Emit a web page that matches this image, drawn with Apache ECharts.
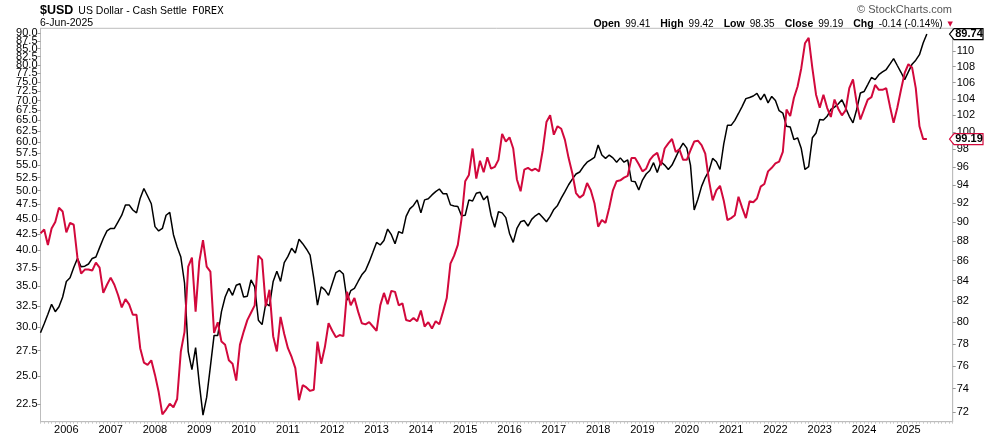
<!DOCTYPE html>
<html>
<head>
<meta charset="utf-8">
<script src="https://cdn.jsdelivr.net/npm/echarts@6/dist/echarts.min.js"></script>
<style>
  html, body { margin: 0; padding: 0; background: #fff; }
  #chart { width: 990px; height: 438px; }
</style>
</head>
<body>
<div id="chart"></div>
<script>
// ---- data (monthly closes, Jun 2005 .. Jun 2025) ----
const startYear = 2005, startMonth = 6, endYear = 2026, endMonth = 1;
const yearLabels = ['2006','2007','2008','2009','2010','2011','2012','2013','2014','2015','2016','2017','2018','2019','2020','2021','2022','2023','2024','2025'];
const leftTicks = [22.5,25,27.5,30,32.5,35,37.5,40,42.5,45,47.5,50,52.5,55,57.5,60,62.5,65,67.5,70,72.5,75,77.5,80,82.5,85,87.5,90];
const rightTicks = [72,74,76,78,80,82,84,86,88,90,92,94,96,98,100,102,104,106,108,110];

// black line, left axis
const blackSeries = [
29.4,30.4,31.5,32.7,31.8,32.4,33.6,35.6,36.1,37.5,38.8,37.6,37.7,38.0,38.8,39.0,40.4,41.8,43.0,43.4,
43.4,44.5,45.6,47.4,47.4,46.5,46.0,48.6,50.4,49.0,47.6,43.7,43.0,43.4,45.6,46.1,42.4,40.5,39.0,35.4,
27.4,25.6,27.8,24.3,21.6,23.1,25.9,29.1,29.1,31.8,33.6,34.7,33.8,35.1,35.3,33.6,33.7,35.8,34.9,30.8,
30.3,32.8,32.5,35.6,37.0,35.6,38.2,39.1,40.3,39.6,41.7,41.0,40.2,39.3,36.0,32.6,34.9,34.5,33.8,35.3,
36.8,37.1,36.6,33.2,34.4,34.7,35.6,36.5,37.1,38.3,39.7,41.2,40.8,41.5,43.3,42.4,41.0,42.9,42.6,45.4,
46.7,47.3,48.3,46.0,48.3,48.5,49.2,49.8,50.3,49.4,49.4,47.4,47.2,47.1,45.5,45.6,48.3,48.1,49.5,49.7,
48.3,49.0,45.6,43.6,46.2,46.0,45.2,42.6,41.2,43.4,44.5,44.7,43.8,44.9,45.5,45.9,45.2,44.5,45.4,46.6,
47.3,48.6,49.8,51.1,52.2,53.2,53.6,54.7,55.6,56.1,56.6,59.3,57.1,56.4,57.1,56.5,55.6,56.5,55.6,56.1,
51.8,51.7,50.1,52.0,53.2,53.9,55.5,53.5,55.7,55.0,54.1,55.0,56.6,58.3,59.7,58.6,55.0,46.5,48.4,50.8,
52.5,53.8,56.4,55.7,54.1,59.5,63.8,63.8,65.0,66.7,68.5,70.5,70.8,71.2,71.9,70.2,71.7,69.4,71.1,70.0,
67.4,66.8,63.6,63.4,60.5,60.9,58.5,54.1,54.7,60.9,62.0,65.2,65.1,66.0,67.7,68.3,69.1,70.2,68.1,66.0,
64.4,67.7,72.0,72.4,74.3,76.3,75.7,77.1,77.9,78.6,80.2,81.9,79.8,77.8,75.7,77.9,80.2,81.4,83.1,86.8,
89.74
];

// red line, right axis ($USD)
const usdSeries = [
88.8,89.2,87.6,89.3,90.0,91.5,91.1,88.9,89.9,89.7,86.3,84.7,85.1,85.1,85.0,85.8,85.3,82.8,83.6,84.3,
83.6,82.6,81.4,82.2,81.7,80.7,80.7,77.6,76.3,76.1,76.5,75.2,73.7,71.8,72.2,72.7,72.4,73.1,77.3,79.1,
85.4,86.3,81.0,85.9,88.1,85.4,84.9,79.0,80.0,78.2,77.9,76.5,76.2,74.7,77.9,79.1,80.2,80.9,81.6,86.5,
86.1,81.5,83.1,78.7,77.3,80.5,78.9,77.6,76.8,75.8,73.0,74.3,74.1,73.8,73.9,78.2,76.2,77.7,79.9,79.2,
78.6,78.8,78.7,82.9,81.6,82.3,81.0,79.9,79.8,80.0,79.6,79.2,81.6,82.8,81.7,83.0,82.9,81.6,81.8,80.2,
80.1,80.4,80.1,81.1,79.6,80.0,79.4,80.1,79.8,81.0,82.3,85.7,86.5,87.6,90.3,94.4,95.1,98.1,94.7,96.7,
95.4,97.1,95.8,96.0,96.8,99.8,98.9,99.4,98.1,94.6,93.3,95.7,95.9,95.6,95.8,95.5,97.9,101.2,102.0,99.7,
100.7,100.4,99.1,97.0,95.3,93.1,92.6,92.9,94.2,93.4,92.0,89.5,90.2,89.9,91.5,93.4,94.4,94.5,94.8,95.0,
97.0,97.0,96.3,95.5,95.8,96.8,97.3,97.6,96.2,98.1,98.7,99.2,97.7,98.0,96.8,96.8,97.9,98.9,99.0,98.5,
97.5,94.5,92.3,93.4,93.9,92.3,90.2,90.4,90.7,92.7,91.5,90.4,92.2,92.1,92.5,93.8,94.1,95.5,95.9,96.4,
96.6,97.7,102.7,101.9,104.1,105.5,107.8,111.0,111.7,107.8,104.5,102.9,104.5,102.9,101.8,103.9,102.8,102.0,102.6,105.3,
106.4,103.5,101.5,102.7,103.9,104.2,105.7,105.1,105.1,105.3,103.1,101.1,102.9,105.1,107.2,108.3,107.9,105.3,100.7,99.2,
99.19
];

// month categories
const months = [];
for (let y = startYear, m = startMonth; y < endYear || (y === endYear && m <= endMonth); ) {
  months.push(y + '-' + String(m).padStart(2, '0'));
  m++; if (m > 12) { m = 1; y++; }
}

const RED = '#d2093c';
const FONT = 'Liberation Sans';

// an empty sentinel label above the top tick absorbs ECharts' max-label overlap check
const leftLabelValues = leftTicks.concat([91.6]);

const chart = echarts.init(document.getElementById('chart'));

const option = {
  animation: false,
  backgroundColor: '#fff',
  textStyle: { fontFamily: FONT },
  grid: { left: 40.5, right: 37.3, top: 28.3, bottom: 16.3, show: true, borderColor: '#bdbdbd', borderWidth: 1 },
  title: [
    {
      left: 40, top: 2, padding: 0,
      text: '{a|$USD} {b|US Dollar - Cash Settle} {c|FOREX}',
      textStyle: {
        fontWeight: 'normal',
        rich: {
          a: { fontFamily: FONT, fontWeight: 'bold', fontSize: 12.5, color: '#000' },
          b: { fontFamily: FONT, fontWeight: 'normal', fontSize: 10.5, color: '#000' },
          c: { fontFamily: 'DejaVu Sans Mono', fontWeight: 'normal', fontSize: 10.5, color: '#000' }
        }
      }
    },
    {
      left: 40, top: 18, padding: 0,
      text: '6-Jun-2025',
      textStyle: { fontFamily: FONT, fontSize: 10.5, fontWeight: 'normal', color: '#000' }
    },
    {
      right: 38, top: 4, padding: 0,
      text: '© StockCharts.com',
      textStyle: { fontFamily: FONT, fontSize: 11, fontWeight: 'normal', color: '#555' }
    },
    {
      right: 37, top: 15, padding: 0,
      text: '{b|Open} {n|99.41}  {b|High} {n|99.42}  {b|Low} {n|98.35}  {b|Close} {n|99.19}  {b|Chg} {n|-0.14 (-0.14%)} {t|▼}',
      textStyle: {
        fontWeight: 'normal',
        rich: {
          b: { fontFamily: FONT, fontWeight: 'bold', fontSize: 10.5, color: '#000' },
          n: { fontFamily: FONT, fontWeight: 'normal', fontSize: 10, color: '#000' },
          t: { fontFamily: 'DejaVu Sans', fontWeight: 'normal', fontSize: 7, color: RED }
        }
      }
    }
  ],
  xAxis: {
    type: 'category',
    data: months,
    boundaryGap: false,
    axisLine: { show: true, lineStyle: { color: '#bdbdbd' } },
    axisTick: { show: true, interval: 0, length: 2, lineStyle: { color: '#c8c8c8' } },
    axisLabel: {
      interval: function (i, v) { return v.slice(5) === '01' && yearLabels.indexOf(v.slice(0, 4)) >= 0; },
      formatter: function (v) { return v.slice(0, 4); },
      fontFamily: FONT, fontSize: 11, color: '#000', margin: 3
    },
    splitLine: { show: false }
  },
  yAxis: [
    {
      type: 'log', logBase: 10, position: 'left',
      min: 21.08, max: 91.7,
      axisLine: { show: true, lineStyle: { color: '#bdbdbd' } },
      axisTick: { show: true, length: 3, customValues: leftTicks, lineStyle: { color: '#999' } },
      axisLabel: {
        customValues: leftLabelValues,
        showMinLabel: true,
        formatter: function (v) { return v > 91 ? '' : Number(v).toFixed(1); },
        fontFamily: FONT, fontSize: 11, color: '#000', margin: 3, lineHeight: 9
      },
      splitLine: { show: false }
    },
    {
      type: 'log', logBase: 10, position: 'right',
      min: 71.18, max: 112.97,
      axisLine: { show: true, lineStyle: { color: '#bdbdbd' } },
      axisTick: { show: true, length: 3, customValues: rightTicks, lineStyle: { color: '#999' } },
      axisLabel: {
        customValues: rightTicks,
        showMinLabel: true, showMaxLabel: true,
        formatter: function (v) { return String(Math.round(v)); },
        fontFamily: FONT, fontSize: 11, color: '#000', margin: 4
      },
      splitLine: { show: false }
    }
  ],
  series: [
    {
      name: 'Black', type: 'line', yAxisIndex: 0, data: blackSeries,
      symbol: 'none', lineStyle: { color: '#000', width: 1.5 }, z: 2
    },
    {
      name: '$USD', type: 'line', yAxisIndex: 1, data: usdSeries,
      symbol: 'none', lineStyle: { color: RED, width: 2 }, z: 3
    }
  ]
};
chart.setOption(option);

// last-value tags on the right axis
function tag(y, txt, color) {
  const x0 = 949.5, x1 = 954, x2 = 983, h = 5.5;
  return {
    type: 'group',
    children: [
      { type: 'polygon', shape: { points: [[x0, y], [x1, y - h], [x2, y - h], [x2, y + h], [x1, y + h]] },
        style: { fill: '#fff', stroke: color, lineWidth: 1.2 }, z: 100 },
      { type: 'text', x: (x1 + x2) / 2 + 0.5, y: y, z: 101,
        style: { text: txt, fill: '#000', font: 'bold 11px "Liberation Sans"', align: 'center', verticalAlign: 'middle' } }
    ]
  };
}
const lastB = blackSeries[blackSeries.length - 1];
const lastR = usdSeries[usdSeries.length - 1];
const yB = chart.convertToPixel({ yAxisIndex: 0 }, lastB);
const yR = chart.convertToPixel({ yAxisIndex: 1 }, lastR);
chart.setOption({
  graphic: [ tag(yB, lastB.toFixed(2), '#000'), tag(yR, lastR.toFixed(2), RED) ]
});
</script>
</body>
</html>
